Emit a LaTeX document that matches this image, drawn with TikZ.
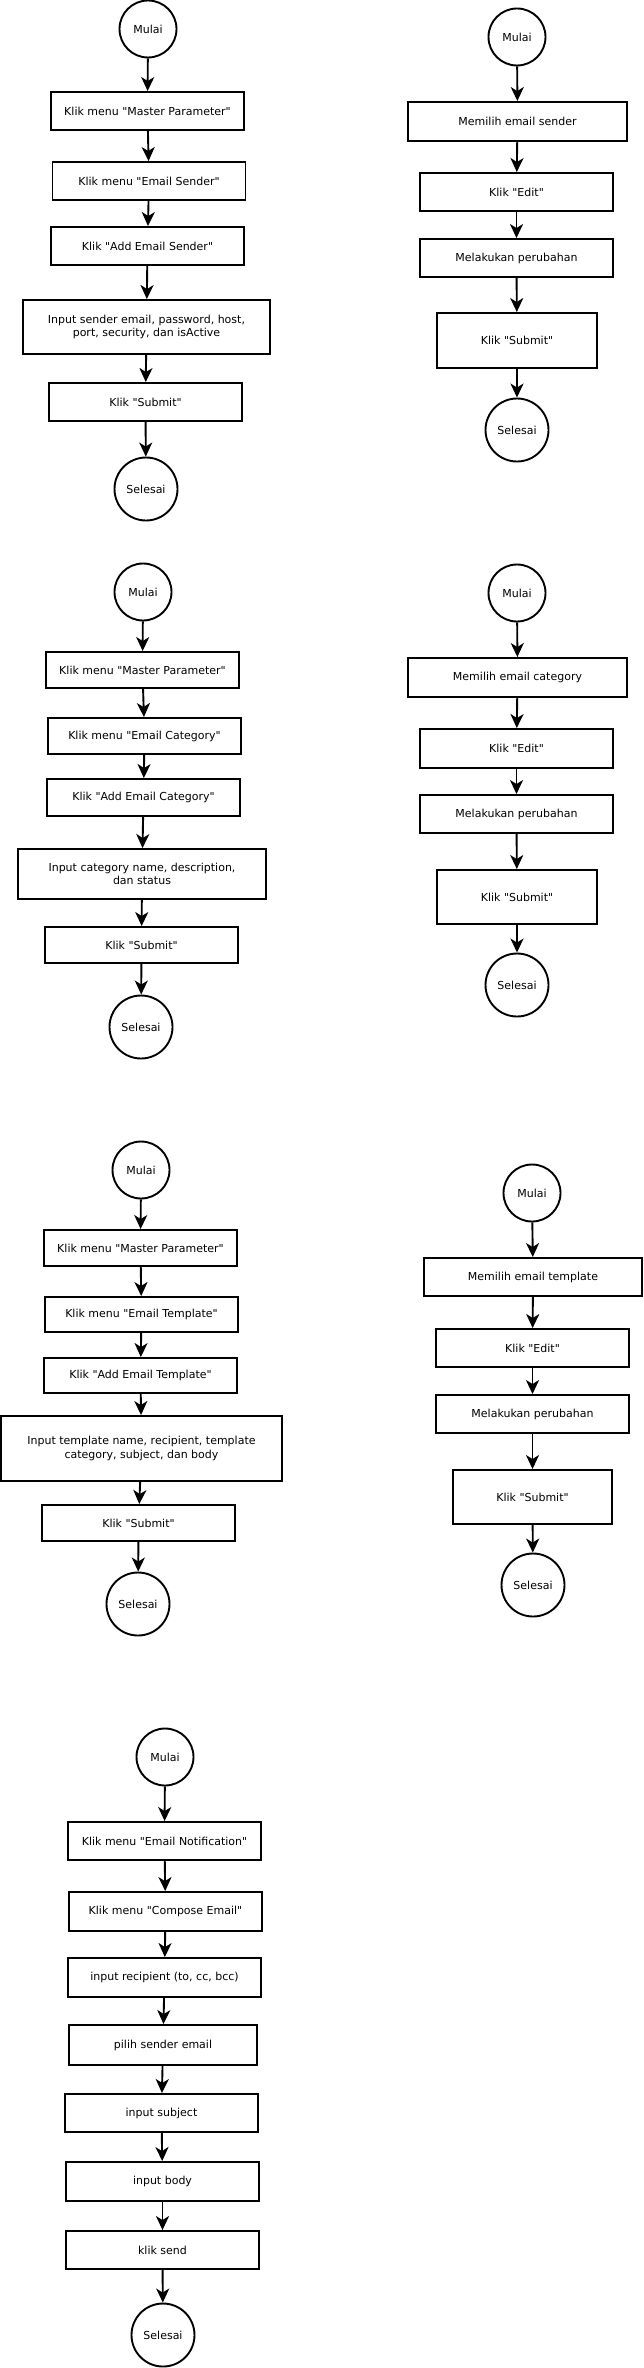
\documentclass[tikz,border=0pt]{standalone}
\usepackage{fontspec}
\setmainfont{DejaVu Sans}[Ligatures=TeXOff]
\usetikzlibrary{shapes,arrows.meta,positioning}

\begin{document}
\begin{tikzpicture}[x=1pt, y=-1pt, >={Stealth[length=14pt,width=13pt,inset=4pt]}, line width=1.9pt, font=\fontsize{11}{13.5}\selectfont] % Styles
\tikzstyle{proses}=[draw, align=center, inner sep=2pt, minimum width=193pt, minimum height=38pt]
\tikzstyle{terminal}=[draw, circle, inner sep=0pt, minimum size=57pt]
\tikzstyle{akhir}=[draw, circle, inner sep=0pt, minimum size=63pt]
\useasboundingbox (0,0) rectangle (643,2368);
% Nodes: tambah email sender
\node[terminal] (s0) at (148,29) {Mulai};
\node[proses] (s1) at (147.5,111) {Klik menu "Master Parameter"};
\node[proses] (s2) at (149,181) {Klik menu "Email Sender"};
\node[proses] (s3) at (147.5,246) {Klik "Add Email Sender"};
\node[proses, minimum width=247pt, minimum height=54pt] (s4) at (146.5,327) {Input sender email, password, host,\\port, security, dan isActive};
\node[proses] (s5) at (145.5,402) {Klik "Submit"};
\node[akhir] (s6) at (146,489) {Selesai};
% Nodes: edit email sender
\node[terminal] (es0) at (517,37) {Mulai};
\node[proses, minimum width=219pt, minimum height=39pt] (es1) at (517.5,121.5) {Memilih email sender};
\node[proses] (es2) at (516.5,192) {Klik "Edit"};
\node[proses] (es3) at (516.5,258) {Melakukan perubahan};
\node[proses, minimum width=160pt, minimum height=55pt] (es4) at (517,340.5) {Klik "Submit"};
\node[akhir] (es5) at (517,430) {Selesai};
% Nodes: tambah email category
\node[terminal] (c0) at (143,592) {Mulai};
\node[proses, minimum height=36pt] (c1) at (142.5,670) {Klik menu "Master Parameter"};
\node[proses, minimum height=36pt] (c2) at (144.5,736) {Klik menu "Email Category"};
\node[proses, minimum height=37pt] (c3) at (143.5,797.5) {Klik "Add Email Category"};
\node[proses, minimum width=248pt, minimum height=50pt] (c4) at (142,874) {Input category name, description,\\dan status};
\node[proses, minimum height=36pt] (c5) at (141.5,945) {Klik "Submit"};
\node[akhir] (c6) at (141,1027) {Selesai};
% Nodes: edit email category
\node[terminal] (ec0) at (517,593) {Mulai};
\node[proses, minimum width=219pt, minimum height=39pt] (ec1) at (517.5,677.5) {Memilih email category};
\node[proses, minimum height=39pt] (ec2) at (516.5,748.5) {Klik "Edit"};
\node[proses] (ec3) at (516.5,814) {Melakukan perubahan};
\node[proses, minimum width=160pt, minimum height=54pt] (ec4) at (517,897) {Klik "Submit"};
\node[akhir] (ec5) at (517,985) {Selesai};
% Nodes: tambah email template
\node[terminal] (t0) at (141,1170) {Mulai};
\node[proses, minimum height=36pt] (t1) at (140.5,1248) {Klik menu "Master Parameter"};
\node[proses, minimum height=35pt] (t2) at (141.5,1314.5) {Klik menu "Email Template"};
\node[proses, minimum height=35pt] (t3) at (140.5,1375.5) {Klik "Add Email Template"};
\node[proses, minimum width=281pt, minimum height=65pt] (t4) at (141.5,1448.5) {Input template name, recipient, template\\category, subject, dan body};
\node[proses, minimum height=36pt] (t5) at (138.5,1523) {Klik "Submit"};
\node[akhir] (t6) at (138,1604) {Selesai};
% Nodes: edit email template
\node[terminal] (et0) at (532,1193) {Mulai};
\node[proses, minimum width=218pt] (et1) at (533,1277) {Memilih email template};
\node[proses] (et2) at (532.5,1348) {Klik "Edit"};
\node[proses] (et3) at (532.5,1414) {Melakukan perubahan};
\node[proses, minimum width=159pt, minimum height=54pt] (et4) at (532.5,1497) {Klik "Submit"};
\node[akhir] (et5) at (533,1585) {Selesai};
% Nodes: compose email
\node[terminal] (n0) at (165,1757) {Mulai};
\node[proses] (n1) at (164.5,1841) {Klik menu "Email Notification"};
\node[proses, minimum height=39pt] (n2) at (165.5,1911.5) {Klik menu "Compose Email"};
\node[proses, minimum height=39pt] (n3) at (164.5,1977.5) {input recipient (to, cc, bcc)};
\node[proses, minimum width=188pt, minimum height=40pt] (n4) at (163,2045) {pilih sender email};
\node[proses] (n5) at (161.5,2113) {input subject};
\node[proses, minimum height=39pt] (n6) at (162.5,2181.5) {input body};
\node[proses] (n7) at (162.5,2250) {klik send};
\node[akhir] (n8) at (163,2335) {Selesai};
% Connections
\draw[->] (s0) -- (s1); \draw[->] (s1) -- (s2); \draw[->] (s2) -- (s3);
\draw[->] (s3) -- (s4); \draw[->] (s4) -- (s5); \draw[->] (s5) -- (s6);
\draw[->] (es0) -- (es1); \draw[->] (es1) -- (es2); \draw[->] (es2) -- (es3);
\draw[->] (es3) -- (es4); \draw[->] (es4) -- (es5);
\draw[->] (c0) -- (c1); \draw[->] (c1) -- (c2); \draw[->] (c2) -- (c3);
\draw[->] (c3) -- (c4); \draw[->] (c4) -- (c5); \draw[->] (c5) -- (c6);
\draw[->] (ec0) -- (ec1); \draw[->] (ec1) -- (ec2); \draw[->] (ec2) -- (ec3);
\draw[->] (ec3) -- (ec4); \draw[->] (ec4) -- (ec5);
\draw[->] (t0) -- (t1); \draw[->] (t1) -- (t2); \draw[->] (t2) -- (t3);
\draw[->] (t3) -- (t4); \draw[->] (t4) -- (t5); \draw[->] (t5) -- (t6);
\draw[->] (et0) -- (et1); \draw[->] (et1) -- (et2); \draw[->] (et2) -- (et3);
\draw[->] (et3) -- (et4); \draw[->] (et4) -- (et5);
\draw[->] (n0) -- (n1); \draw[->] (n1) -- (n2); \draw[->] (n2) -- (n3);
\draw[->] (n3) -- (n4); \draw[->] (n4) -- (n5); \draw[->] (n5) -- (n6);
\draw[->] (n6) -- (n7); \draw[->] (n7) -- (n8);
\end{tikzpicture}
\end{document}
